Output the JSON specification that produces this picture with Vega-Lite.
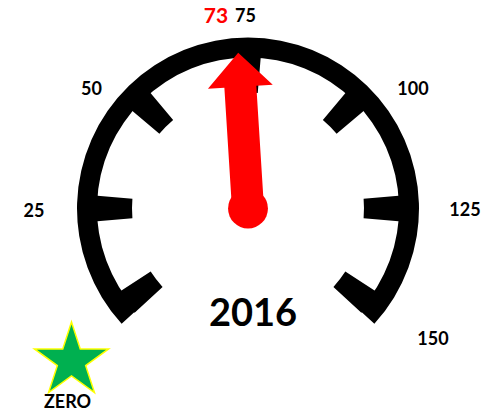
{
  "$schema": "https://vega.github.io/schema/vega-lite/v6.json",
  "width": 498,
  "height": 415,
  "autosize": {"type": "fit", "contains": "padding"},
  "padding": {"left": 0, "top": 2, "right": 2, "bottom": 0},
  "background": "white",
  "config": {"view": {"stroke": null}, "text": {"font": "Lato", "fontWeight": "bold"}},
  "datasets": {
    "range": [{"start": 0, "end": 150}],
    "gauge": [
      {"value": 0, "kind": "tick"},
      {"value": 25, "kind": "tick"},
      {"value": 50, "kind": "tick"},
      {"value": 75, "kind": "tick"},
      {"value": 100, "kind": "tick"},
      {"value": 125, "kind": "tick"},
      {"value": 150, "kind": "tick"},
      {"value": 73, "kind": "reading", "year": "2016"}
    ]
  },
  "resolve": {"scale": {"theta": "independent", "radius": "independent"}},
  "layer": [
    {
      "data": {"name": "range"},
      "mark": {"type": "arc", "color": "#000000", "radius": 171, "radius2": 151, "thetaOffset": -0.08, "theta2Offset": 0.08},
      "encoding": {
        "theta": {"field": "start", "type": "quantitative", "stack": null, "scale": {"domain": [0, 25, 125, 150], "range": [-2.23, -1.5708, 1.5708, 2.23]}},
        "theta2": {"field": "end"}
      }
    },
    {
      "data": {"name": "gauge"},
      "transform": [{"filter": "datum.kind == 'tick'"}],
      "mark": {"type": "arc", "color": "#000000", "radius": 154, "radius2": 116, "thetaOffset": -0.084, "theta2Offset": 0.084},
      "encoding": {
        "theta": {"field": "value", "type": "quantitative", "stack": null, "scale": {"domain": [0, 25, 125, 150], "range": [-2.23, -1.5708, 1.5708, 2.23]}},
        "theta2": {"field": "value"}
      }
    },
    {
      "data": {"name": "gauge"},
      "transform": [{"filter": "datum.value == 0"}],
      "mark": {
        "type": "point",
        "filled": true,
        "opacity": 1,
        "color": "#00B050",
        "stroke": "#FFFF00",
        "strokeWidth": 1.5,
        "size": 6084,
        "xOffset": -176.5,
        "yOffset": 152.5,
        "shape": "M0,-1L0.2245,-0.309L0.9511,-0.309L0.3633,0.118L0.5878,0.809L0,0.382L-0.5878,0.809L-0.3633,0.118L-0.9511,-0.309L-0.2245,-0.309Z"
      },
      "encoding": {}
    },
    {
      "data": {"name": "gauge"},
      "mark": {"type": "text", "align": "center", "baseline": "middle"},
      "encoding": {
        "text": {"condition": {"test": "datum.value == 0", "value": "ZERO"}, "field": "value", "type": "quantitative", "format": "d"},
        "theta": {"field": "value", "type": "quantitative", "stack": null, "scale": {"domain": [0, 25, 50, 73, 75, 100, 125, 150], "range": [-2.3936, -1.5894, -0.9227, -0.166, -0.013, 0.9479, 1.5846, 2.1888]}},
        "radius": {"field": "value", "type": "quantitative", "scale": {"type": "linear", "zero": false, "domain": [0, 25, 50, 73, 75, 100, 125, 150], "range": [265.4, 214, 196.3, 193.7, 192, 203.1, 217, 227]}},
        "color": {"condition": {"test": "datum.kind == 'reading'", "value": "#FF0000"}, "value": "#000000"},
        "size": {"condition": {"test": "datum.kind == 'reading'", "value": 21}, "value": 18}
      }
    },
    {
      "data": {"name": "gauge"},
      "transform": [{"filter": "datum.kind == 'reading'"}],
      "mark": {
        "type": "point",
        "filled": true,
        "opacity": 1,
        "color": "#FF0000",
        "strokeWidth": 0,
        "size": 102400,
        "shape": "M0,-0.975L0.203,-0.7625L0.1,-0.7625L0.1,0L-0.1,0L-0.1,-0.7625L-0.203,-0.7625Z"
      },
      "encoding": {
        "angle": {"field": "value", "type": "quantitative", "scale": {"domain": [0, 25, 125, 150], "range": [-127.8, -90, 90, 127.8]}}
      }
    },
    {
      "data": {"name": "gauge"},
      "transform": [{"filter": "datum.kind == 'reading'"}],
      "mark": {"type": "point", "shape": "circle", "filled": true, "opacity": 1, "color": "#FF0000", "strokeWidth": 0, "size": 1590},
      "encoding": {}
    },
    {
      "data": {"name": "gauge"},
      "transform": [{"filter": "datum.kind == 'reading'"}],
      "mark": {"type": "text", "align": "center", "baseline": "middle", "fontSize": 38, "dx": 5, "dy": 106, "color": "#000000"},
      "encoding": {
        "text": {"field": "year", "type": "nominal"}
      }
    }
  ]
}
